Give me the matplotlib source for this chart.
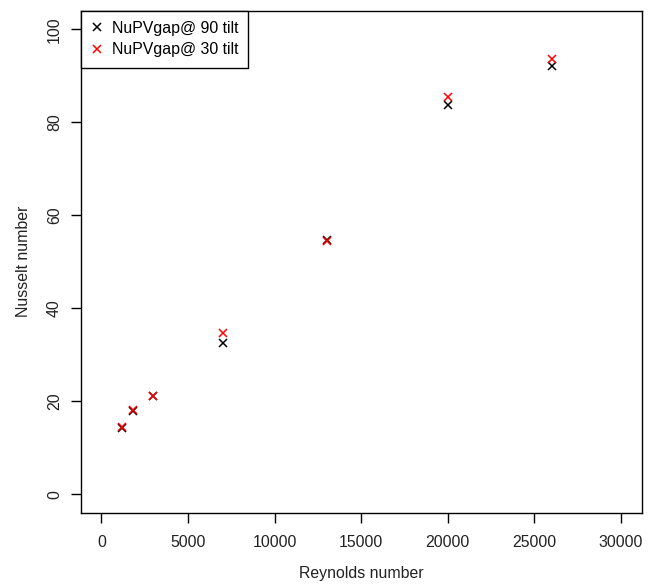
import matplotlib
matplotlib.use("Agg")
import matplotlib.pyplot as plt

reynolds = [1200, 1800, 3000, 7000, 13000, 20000, 26000]
nu_90 = [14.3, 17.8, 21.1, 32.6, 54.7, 83.8, 92.0]
nu_30 = [14.4, 18.2, 21.1, 34.6, 54.4, 85.4, 93.6]
series_labels = ["NuPVgap@ 90 tilt", "NuPVgap@ 30 tilt"]
xticks = [0, 5000, 10000, 15000, 20000, 25000, 30000]
yticks = [0, 20, 40, 60, 80, 100]

plt.rcParams['font.family'] = ['Liberation Sans', 'DejaVu Sans']
fs = 11.4

fig = plt.figure(figsize=(6.51, 5.87), dpi=100)
ax = fig.add_axes([80.7/651, 1-512.7/587, (641.7-80.7)/651, (512.7-10.7)/587])

ax.plot(reynolds, nu_90, linestyle='none', marker='x', color='black',
        markersize=6, markeredgewidth=1.1, label=series_labels[0])
ax.plot(reynolds, nu_30, linestyle='none', marker='x', color='#FF0000',
        markersize=6, markeredgewidth=1.1, label=series_labels[1])

ax.set_xlim(-1200, 31200)
ax.set_ylim(-4, 104)
ax.set_xticks(xticks)
ax.set_xticklabels([str(t) for t in xticks], fontsize=fs, color='#222222')
ax.set_yticks(yticks)
ax.set_yticklabels([str(t) for t in yticks], fontsize=fs, rotation=90,
                   va='center', color='#222222')
ax.tick_params(axis='both', length=7, width=1, color='black')
ax.tick_params(axis='x', pad=9)
ax.tick_params(axis='y', pad=6.5)
for s in ax.spines.values():
    s.set_linewidth(1.0)
    s.set_color('black')

ax.set_xlabel("Reynolds number", fontsize=fs, color='#222222', labelpad=11.5)
ax.set_ylabel("Nusselt number", fontsize=fs, color='#222222', labelpad=11.5)

leg = ax.legend(loc='upper left', borderaxespad=0, fancybox=False,
                edgecolor='black', framealpha=1, fontsize=fs,
                handlelength=0.8, handletextpad=0.5, borderpad=0.65,
                labelspacing=0.4)
leg.get_frame().set_linewidth(1.0)

fig.savefig("out.png", dpi=100)
